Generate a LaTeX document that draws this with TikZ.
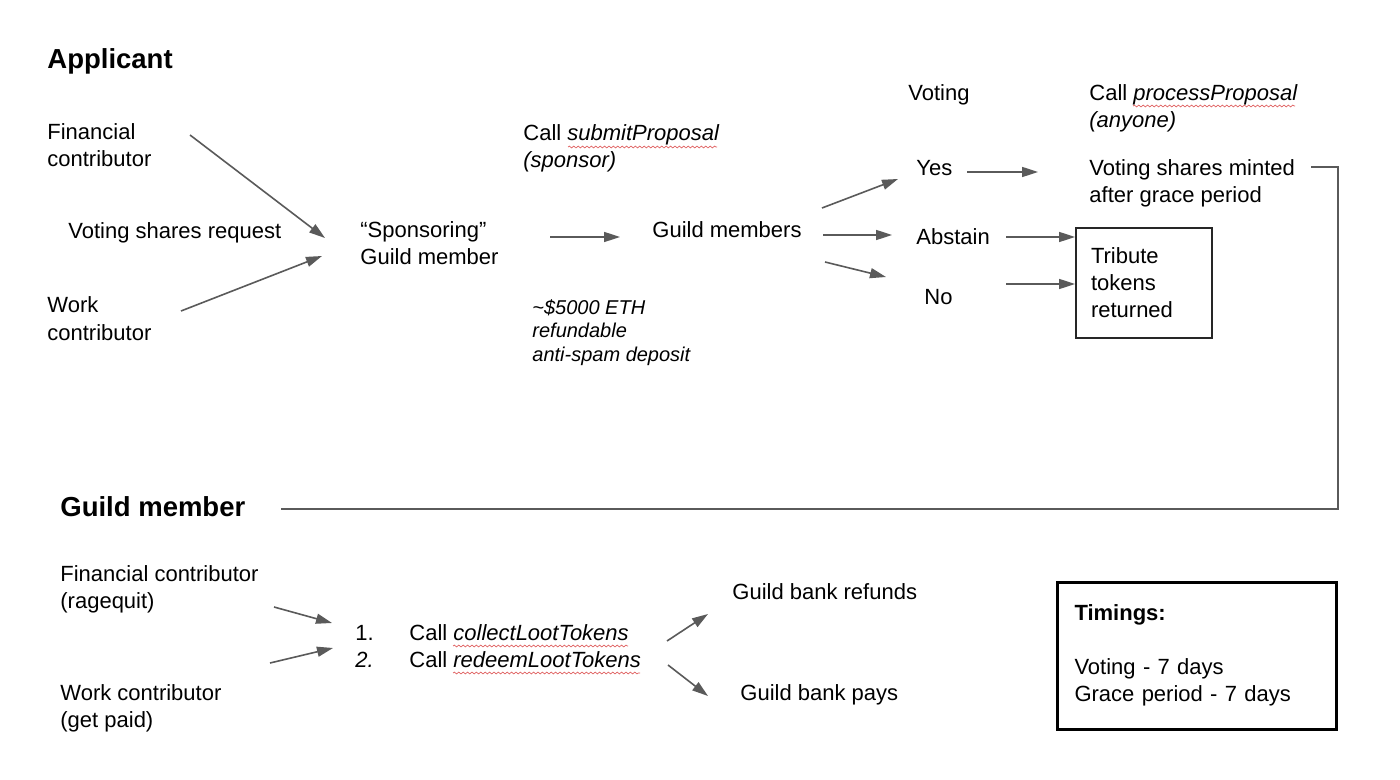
\documentclass[tikz,border=0pt]{standalone}
\usepackage{fontspec}
\setmainfont{Liberation Sans}
\usetikzlibrary{arrows.meta,decorations.pathmorphing}
\definecolor{arrowgray}{HTML}{5A5A5A}
\definecolor{squigred}{HTML}{E06060}
% multi-line nodes: the base anchor is the baseline of the LAST line
\tikzset{
  txt/.style={anchor=base west, inner sep=0pt, align=left, font=\fontsize{11}{13.5}\selectfont},
  note/.style={anchor=base west, inner sep=0pt, align=left, font=\fontsize{10}{11.75}\selectfont\itshape},
  head/.style={anchor=base west, inner sep=0pt, font=\fontsize{13.75}{16}\selectfont\bfseries},
  arr/.style={draw=arrowgray, line width=0.8pt, -{Triangle[length=8pt,width=5pt]}},
  link/.style={draw=arrowgray, line width=1pt},
  squig/.style={draw=squigred, line width=0.35pt, decorate, decoration={snake, amplitude=0.45pt, segment length=2.2pt}},
  boxed/.style={draw, inner sep=0pt, align=left, font=\fontsize{11}{13.5}\selectfont}
}
\begin{document}
\begin{tikzpicture}[x=0.5pt,y=-0.5pt]
\useasboundingbox (0,0) rectangle (1400,780);
\fill[white] (0,0) rectangle (1400,780);

% ---------- Applicant section ----------
\node[head] (app) at (47,69) {Applicant};
\node[txt] (fin) at (47,167) {Financial\\contributor};
\node[txt] (vsr) at (68,239) {Voting shares request};
\node[txt] (work) at (47,340) {Work\\contributor};
\node[txt] (spons) at (360,265) {“Sponsoring”\\Guild member};
\node[txt] (submit) at (523,168) {Call \textit{submitProposal}\\\textit{(sponsor)}};
\node[txt] (gms) at (652,238) {Guild members};
\node[note] (dep) at (532,361) {\textasciitilde\$5000 ETH\\refundable\\anti-spam deposit};
\node[txt] (voting) at (908,101) {Voting};
\node[txt] (process) at (1089,128) {Call \textit{processProposal}\\\textit{(anyone)}};
\node[txt] (yes) at (916,176) {Yes};
\node[txt] (abstain) at (916,245) {Abstain};
\node[txt] (no) at (924,305) {No};
\node[txt] (minted) at (1089,203) {Voting shares minted\\after grace period};
\node[boxed, draw=black!85, line width=0.8pt, minimum width=68pt, minimum height=55pt,
      text width=53pt, inner xsep=7.5pt] (trib) at (1144,283) {Tribute\\tokens\\returned};

% ---------- Guild member section ----------
\node[head] (gmhead) at (60,516) {Guild member};
\node[txt] (fin2) at (60,608) {Financial contributor\\(ragequit)};
\node[txt] (work2) at (60,727) {Work contributor\\(get paid)};
\node[txt] (steps) at (355,667) {\makebox[27pt][l]{1.}Call \textit{collectLootTokens}\\\makebox[27pt][l]{\textit{2.}}Call \textit{redeemLootTokens}};
\node[txt] (refund) at (732,599) {Guild bank refunds};
\node[txt] (pays) at (740,700) {Guild bank pays};
\node[boxed, line width=1.5pt, minimum width=139.5pt, minimum height=73.5pt,
      text width=122pt, inner xsep=8pt] (tim) at (1196.5,655.5)
      {\textbf{Timings:}\\[13.5pt]Voting - 7 days\\Grace period - 7 days};

% ---------- connector end points ----------
\coordinate (finOut) at (190,135);   \coordinate (sponIn1) at (325,238);
\coordinate (workOut) at (181,311);  \coordinate (sponIn2) at (322,256);
\coordinate (sponOut) at (550,237);  \coordinate (gmsIn) at (620,237);
\coordinate (gmsOut1) at (822,208);  \coordinate (yesIn) at (898,179);
\coordinate (gmsOut2) at (823,235);  \coordinate (abstainIn) at (892,235);
\coordinate (gmsOut3) at (825,262);  \coordinate (noIn) at (886,277);
\coordinate (yesOut) at (967,172);   \coordinate (mintedIn) at (1038,172);
\coordinate (abstainOut) at (1006,237); \coordinate (tribIn1) at (1075,237);
\coordinate (noOut) at (1006,284);   \coordinate (tribIn2) at (1075,284);
\coordinate (mintedOut) at (1311,167); \coordinate (gmheadIn) at (281,509);
\coordinate (fin2Out) at (274,607);  \coordinate (stepsIn1) at (332,623);
\coordinate (work2Out) at (270,663); \coordinate (stepsIn2) at (333,648);
\coordinate (stepsOut1) at (667,641); \coordinate (refundIn) at (708,614);
\coordinate (stepsOut2) at (668,665); \coordinate (paysIn) at (708,696);

% ---------- arrows ----------
\draw[arr] (finOut) -- (sponIn1);
\draw[arr] (workOut) -- (sponIn2);
\draw[arr] (sponOut) -- (gmsIn);
\draw[arr] (gmsOut1) -- (yesIn);
\draw[arr] (gmsOut2) -- (abstainIn);
\draw[arr] (gmsOut3) -- (noIn);
\draw[arr] (yesOut) -- (mintedIn);
\draw[arr] (abstainOut) -- (tribIn1);
\draw[arr] (noOut) -- (tribIn2);
\draw[link] (mintedOut) -- ++(27,0) |- (gmheadIn);
\draw[arr] (fin2Out) -- (stepsIn1);
\draw[arr] (work2Out) -- (stepsIn2);
\draw[arr] (stepsOut1) -- (refundIn);
\draw[arr] (stepsOut2) -- (paysIn);

% ---------- spell-check squiggles ----------
\draw[squig] (568,147) -- (717,147);
\draw[squig] (1133,106) -- (1295,106);
\draw[squig] (453,646) -- (628,646);
\draw[squig] (453,673) -- (640,673);
\end{tikzpicture}
\end{document}
